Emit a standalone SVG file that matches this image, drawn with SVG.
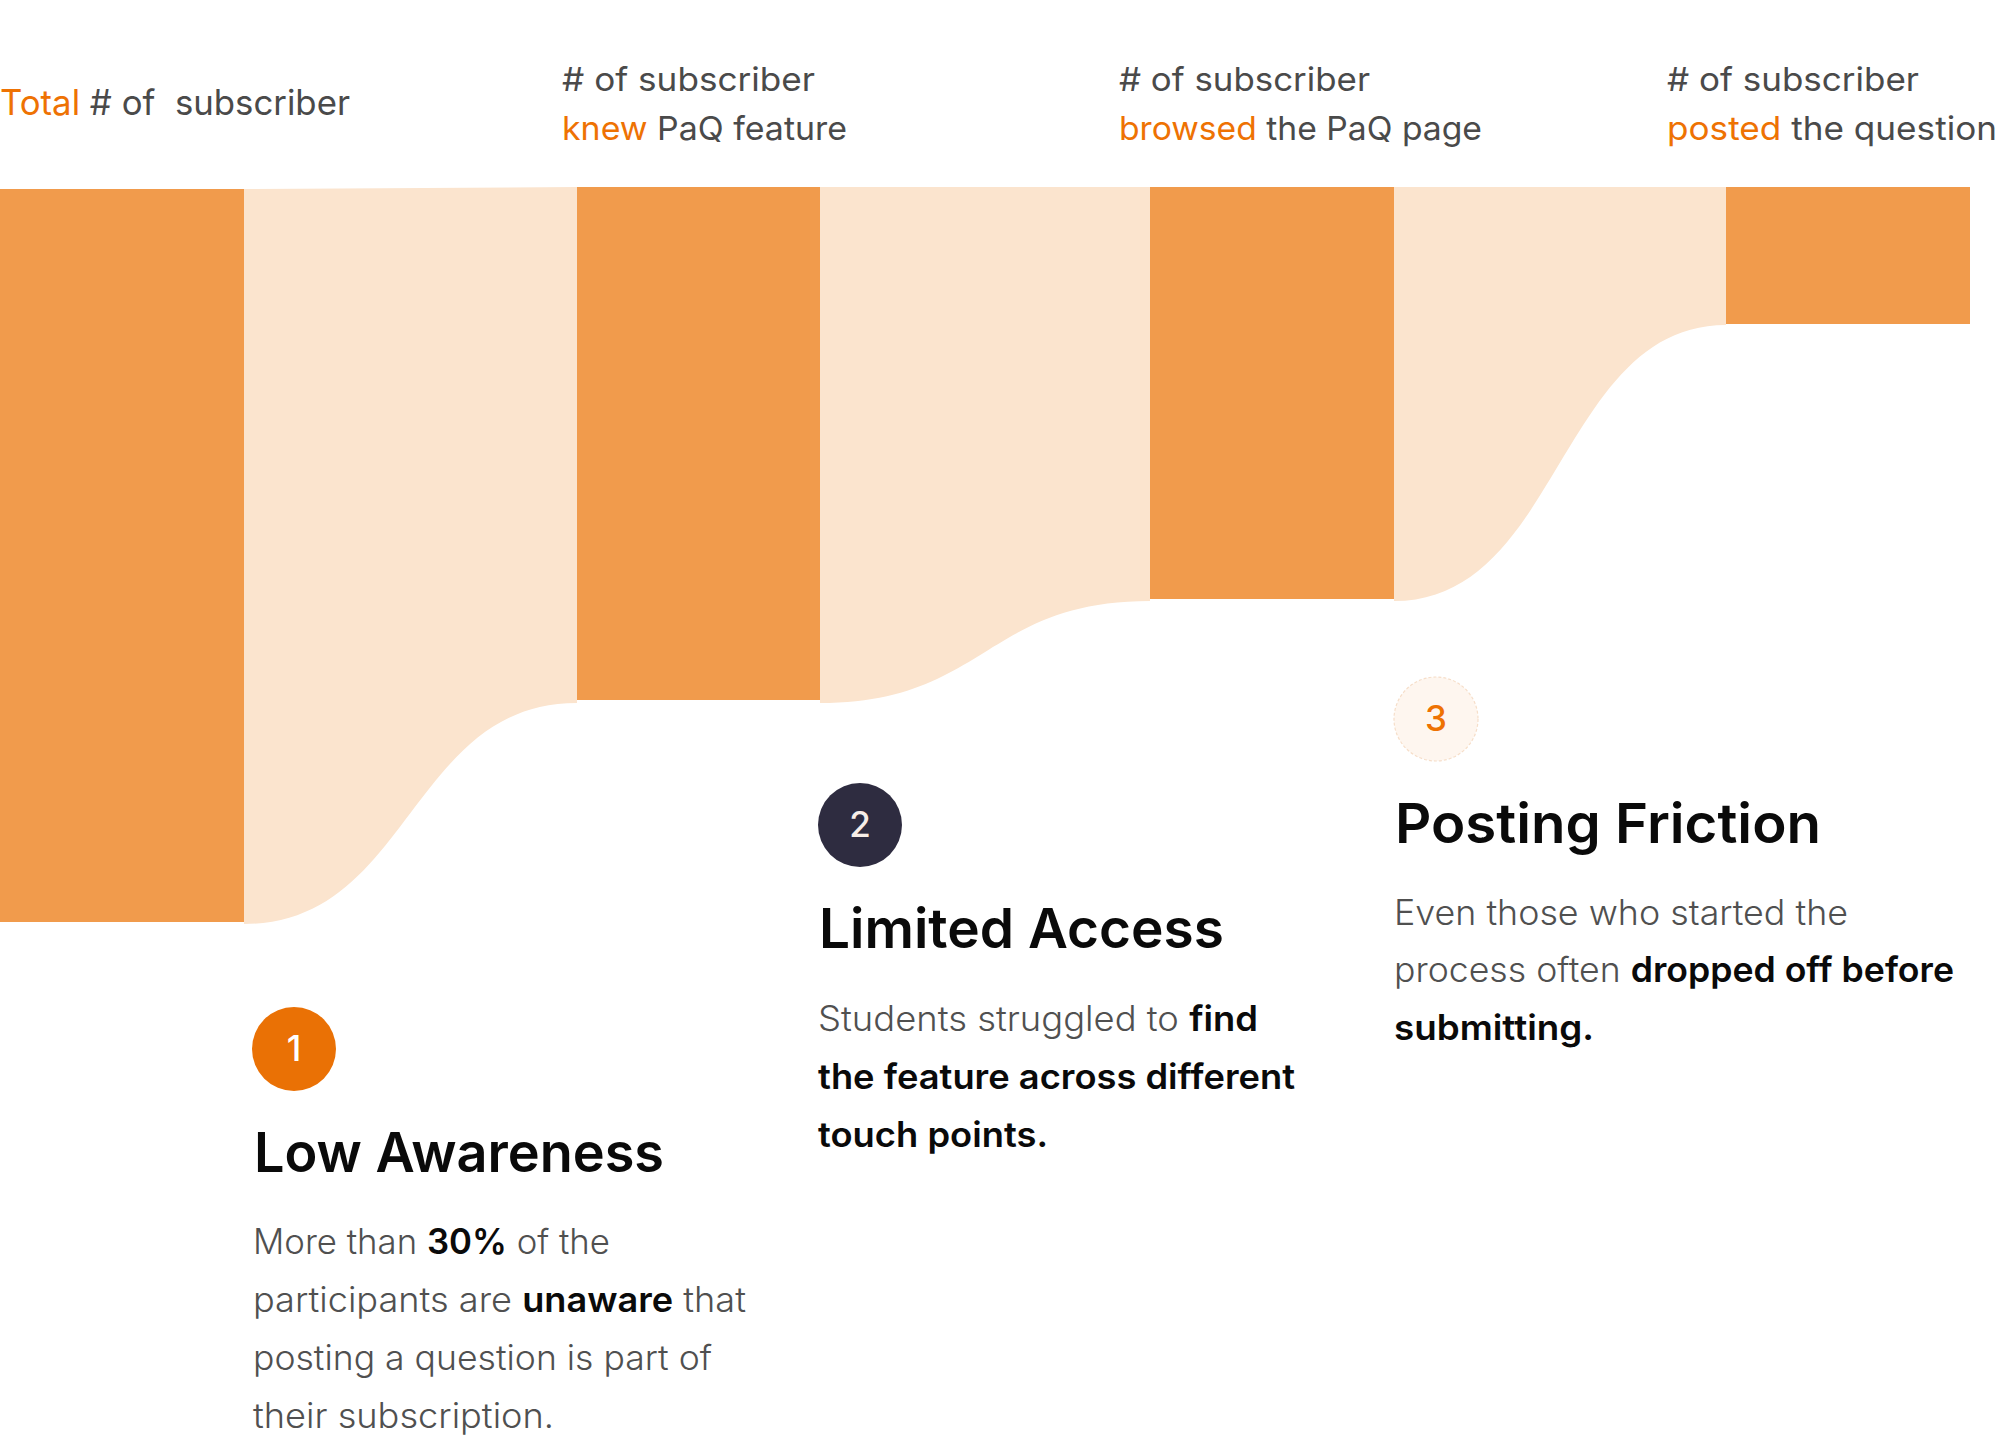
<svg xmlns="http://www.w3.org/2000/svg" width="2000" height="1445" viewBox="0 0 2000 1445">
<style>
.bar{fill:#F19B4C}
.flow{fill:#FBE4CE}
.hd{font-family:Inter,"Liberation Sans",sans-serif;font-size:33px;fill:#4A4A4A;font-weight:400}
.or{fill:#EE7203}
.tt{font-family:Inter,"Liberation Sans",sans-serif;font-size:55px;font-weight:600;fill:#0A0A0A}
.bd{font-family:Inter,"Liberation Sans",sans-serif;font-size:35px;font-weight:300;fill:#505050}
.b{font-weight:600;fill:#0A0A0A}
.num{font-family:Inter,"Liberation Sans",sans-serif;font-size:35px;font-weight:500;text-anchor:middle}
</style>
<rect width="2000" height="1445" fill="#FFFFFF"/>
<g id="connectors">
<path class="flow" d="M244,189 L577,187 L577,703 C410,703 410,924 244,924 Z"/>
<path class="flow" d="M820,187 L1150,187 L1150,601 C985,601 985,703 820,703 Z"/>
<path class="flow" d="M1394,187 L1726,187 L1726,325 C1560,325 1560,601 1394,601 Z"/>
</g>
<g id="stage-total">
<rect class="bar" x="0" y="189" width="244" height="733"/>
<text class="hd" x="0" y="115" style="font-size:35px;white-space:pre" textLength="350" lengthAdjust="spacingAndGlyphs"><tspan class="or">Total</tspan> # of  subscriber</text>
</g>
<g id="stage-knew">
<rect class="bar" x="577" y="187" width="243" height="513"/>
<text class="hd" x="562" y="91" textLength="253" lengthAdjust="spacingAndGlyphs"># of subscriber</text>
<text class="hd" x="562" y="140" textLength="285" lengthAdjust="spacingAndGlyphs"><tspan class="or">knew</tspan> PaQ feature</text>
</g>
<g id="stage-browsed">
<rect class="bar" x="1150" y="187" width="244" height="412"/>
<text class="hd" x="1119" y="91" textLength="251" lengthAdjust="spacingAndGlyphs"># of subscriber</text>
<text class="hd" x="1119" y="140" textLength="363" lengthAdjust="spacingAndGlyphs"><tspan class="or">browsed</tspan> the PaQ page</text>
</g>
<g id="stage-posted">
<rect class="bar" x="1726" y="187" width="244" height="137"/>
<text class="hd" x="1667" y="91" textLength="252" lengthAdjust="spacingAndGlyphs"># of subscriber</text>
<text class="hd" x="1667" y="140" textLength="330" lengthAdjust="spacingAndGlyphs"><tspan class="or">posted</tspan> the question</text>
</g>
<g id="insight-1">
<circle cx="294" cy="1049" r="42" fill="#EA7105"/>
<text class="num" x="294" y="1061" fill="#FFFFFF">1</text>
<text class="tt" x="254" y="1172" textLength="410" lengthAdjust="spacingAndGlyphs">Low Awareness</text>
<text class="bd" x="253" y="1254" textLength="357" lengthAdjust="spacingAndGlyphs">More than <tspan class="b">30%</tspan> of the</text>
<text class="bd" x="253" y="1312" textLength="493" lengthAdjust="spacingAndGlyphs">participants are <tspan class="b">unaware</tspan> that</text>
<text class="bd" x="253" y="1370" textLength="459" lengthAdjust="spacingAndGlyphs">posting a question is part of</text>
<text class="bd" x="253" y="1428" textLength="301" lengthAdjust="spacingAndGlyphs">their subscription.</text>
</g>
<g id="insight-2">
<circle cx="860" cy="825" r="42" fill="#2E2C40"/>
<text class="num" x="860" y="837" fill="#F7EEE8">2</text>
<text class="tt" x="819" y="948" textLength="405" lengthAdjust="spacingAndGlyphs">Limited Access</text>
<text class="bd" x="818" y="1031" textLength="440" lengthAdjust="spacingAndGlyphs">Students struggled to <tspan class="b">find</tspan></text>
<text class="bd b" x="818" y="1089" textLength="477" lengthAdjust="spacingAndGlyphs">the feature across different</text>
<text class="bd b" x="818" y="1147" textLength="230" lengthAdjust="spacingAndGlyphs">touch points.</text>
</g>
<g id="insight-3">
<circle cx="1436" cy="719" r="42" fill="#FEF6EF" stroke="#F6DEC9" stroke-width="1.2" stroke-dasharray="3 2"/>
<text class="num" x="1436" y="731" fill="#EE7203">3</text>
<text class="tt" x="1395" y="843" textLength="426" lengthAdjust="spacingAndGlyphs">Posting Friction</text>
<text class="bd" x="1394" y="925" textLength="454" lengthAdjust="spacingAndGlyphs">Even those who started the</text>
<text class="bd" x="1394" y="982" textLength="560" lengthAdjust="spacingAndGlyphs">process often <tspan class="b">dropped off before</tspan></text>
<text class="bd b" x="1394" y="1040" textLength="200" lengthAdjust="spacingAndGlyphs">submitting.</text>
</g>
</svg>
